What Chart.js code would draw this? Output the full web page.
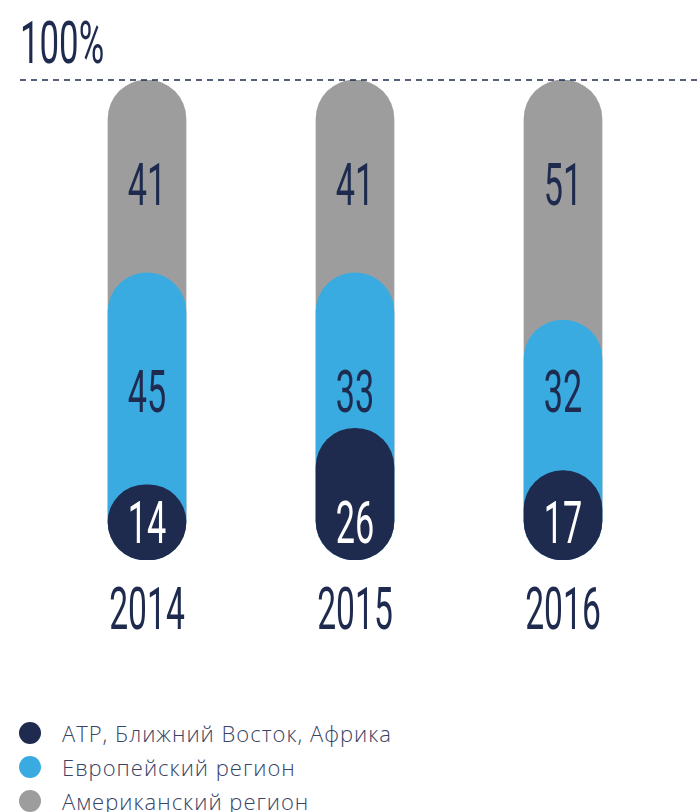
<!DOCTYPE html>
<html>
<head>
<meta charset="utf-8">
<script src="https://cdn.jsdelivr.net/npm/chart.js@4/dist/chart.umd.min.js"></script>
<style>
  html, body { margin: 0; padding: 0; background: #fff; overflow: hidden; }
  #wrap { position: relative; width: 699px; height: 700px; }
  #legend { position: absolute; left: 19px; top: 716px; font-family: "Open Sans", sans-serif;
            font-weight: 300; font-size: 22px; color: #3a4466; letter-spacing: 1px; }
  .item { display: flex; align-items: center; height: 34px; }
  .dot { width: 22px; height: 22px; border-radius: 50%; margin-right: 21px; flex: none; }
</style>
</head>
<body>
<div id="wrap"><canvas id="c" width="699" height="700"></canvas></div>
<div id="legend"></div>
<script>
// data
const years = ['2014', '2015', '2016'];
const seriesNames = ['АТР, Ближний Восток, Африка', 'Европейский регион', 'Американский регион'];
const apac = [14, 26, 17];
const europe = [45, 33, 32];
const americas = [41, 41, 51];
const colors = ['#1e2b4f', '#3aabe1', '#9d9d9d'];

const rows = [apac, europe, americas];
const BASE = -2;               // pills start a little under zero (rounded end cap)
const LABEL_LEVELS = [6, 34, 78]; // value labels sit on fixed levels
const NAVY = '#1e2b4f';

// each pill runs from the base up to the running total
const runningTotal = (k) => years.map((_, i) => rows.slice(0, k + 1).reduce((s, r) => s + r[i], 0));

function condensed(ctx, text, x, y, size, color, sx, align) {
  ctx.save();
  ctx.translate(x, y);
  ctx.scale(sx, 1);
  ctx.font = '400 ' + size + 'px Roboto';
  ctx.fillStyle = color;
  ctx.textAlign = align;
  ctx.textBaseline = 'alphabetic';
  ctx.fillText(text, 0, 0);
  ctx.restore();
}

const labelsPlugin = {
  id: 'labels',
  afterDatasetsDraw(chart) {
    const { ctx, scales: { x, y }, chartArea } = chart;
    const top = y.getPixelForValue(100);

    // dashed 100% line
    ctx.save();
    ctx.strokeStyle = NAVY;
    ctx.lineWidth = 1.5;
    ctx.setLineDash([6, 5]);
    ctx.beginPath();
    ctx.moveTo(20, top);
    ctx.lineTo(chart.width, top);
    ctx.stroke();
    ctx.restore();
    condensed(ctx, '100%', 20, top - 17, 60, NAVY, 0.58, 'left');

    years.forEach((yr, i) => {
      const cx = x.getPixelForValue(i);
      condensed(ctx, yr, cx, chartArea.bottom + 69, 59, NAVY, 0.57, 'center');
      rows.forEach((r, k) => {
        const py = y.getPixelForValue(LABEL_LEVELS[k]) + 21;
        condensed(ctx, String(r[i]), cx, py, 60, k === 0 ? '#ffffff' : NAVY, 0.57, 'center');
      });
    });
  }
};

new Chart(document.getElementById('c').getContext('2d'), {
  type: 'bar',
  data: {
    labels: years,
    datasets: rows.map((r, k) => ({
      label: seriesNames[k],
      data: runningTotal(k).map(v => [BASE, v]),
      backgroundColor: colors[k],
      borderRadius: 100,
      borderSkipped: false,
      barThickness: 78,
      order: k
    }))
  },
  options: {
    responsive: false,
    animation: false,
    layout: { padding: { left: 43, right: 32, top: 80, bottom: 140 } },
    datasets: { bar: { grouped: false } },
    scales: {
      x: { display: false },
      y: { display: false, min: BASE, max: 100 }
    },
    plugins: { legend: { display: false }, tooltip: { enabled: false } }
  },
  plugins: [labelsPlugin]
});

// legend
const legend = document.getElementById('legend');
seriesNames.forEach((name, k) => {
  const item = document.createElement('div');
  item.className = 'item';
  item.innerHTML = '<span class="dot" style="background:' + colors[k] + '"></span><span>' + name + '</span>';
  legend.appendChild(item);
});
</script>
</body>
</html>
